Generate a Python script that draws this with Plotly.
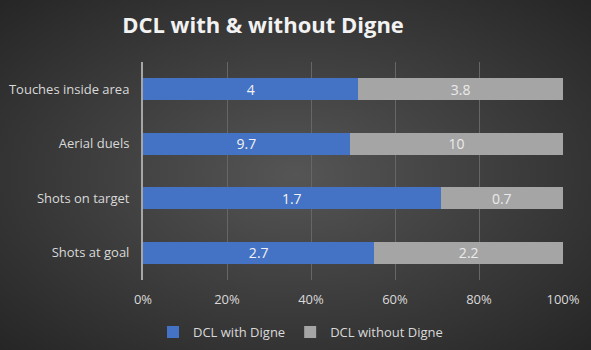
import base64
import plotly.graph_objects as go

categories = ["Touches inside area", "Aerial duels", "Shots on target", "Shots at goal"]
with_digne = [4, 9.7, 1.7, 2.7]
without_digne = [3.8, 10, 0.7, 2.2]
x_ticks = [0, 20, 40, 60, 80, 100]
x_tick_labels = ["0%", "20%", "40%", "60%", "80%", "100%"]

W, H = 591, 350
svg = f'''<svg xmlns="http://www.w3.org/2000/svg" width="{W}" height="{H}" viewBox="0 0 {W} {H}" preserveAspectRatio="none">
<defs><radialGradient id="g" cx="50%" cy="50%" r="70%">
<stop offset="0%" stop-color="#555555"/><stop offset="100%" stop-color="#262626"/></radialGradient></defs>
<rect width="{W}" height="{H}" fill="url(#g)"/></svg>'''
bg_src = "data:image/svg+xml;base64," + base64.b64encode(svg.encode()).decode()

fig = go.Figure()
fig.add_trace(go.Bar(
    y=categories, x=with_digne, name="DCL with Digne", orientation="h",
    marker=dict(color="#4472C4", line=dict(width=0)),
    text=[str(v) for v in with_digne], textposition="inside", insidetextanchor="middle",
    textangle=0, constraintext="none",
    textfont=dict(color="#F2F2F2", size=14, family="Open Sans"),
))
fig.add_trace(go.Bar(
    y=categories, x=without_digne, name="DCL without Digne", orientation="h",
    marker=dict(color="#A5A5A5", line=dict(width=0)),
    text=[str(v) for v in without_digne], textposition="inside", insidetextanchor="middle",
    textangle=0, constraintext="none",
    textfont=dict(color="#EBEBEB", size=14, family="Open Sans"),
))

fig.update_layout(
    width=W, height=H,
    barmode="stack", barnorm="percent", bargap=0.6,
    paper_bgcolor="#3a3a3a", plot_bgcolor="rgba(0,0,0,0)",
    margin=dict(l=143, r=28, t=62, b=70, autoexpand=False),
    title=dict(text="<b>DCL with & without Digne</b>", x=263 / W, xanchor="center",
               y=1 - 25 / H, yanchor="middle",
               font=dict(family="Open Sans", size=22, color="#F2F2F2")),
    font=dict(family="Open Sans", color="#D9D9D9", size=13),
    xaxis=dict(range=[0, 100], tickvals=x_ticks, ticktext=x_tick_labels,
               showgrid=True, gridcolor="#666666", gridwidth=1, zeroline=False,
               showline=False, ticks="", ticklabelstandoff=10, automargin=False,
               tickfont=dict(size=13, color="#D9D9D9")),
    yaxis=dict(autorange="reversed", showgrid=False, showline=True,
               linecolor="#A6A6A6", linewidth=2, ticks="", ticklabelstandoff=9,
               automargin=False,
               tickfont=dict(size=13, color="#D9D9D9")),
    legend=dict(orientation="h", x=0.375, xanchor="center", y=-0.17, yanchor="top",
                font=dict(size=13, color="#D9D9D9"), bgcolor="rgba(0,0,0,0)",
                traceorder="normal", itemwidth=30),
    images=[dict(source=bg_src, xref="paper", yref="paper", x=-143/(W-171), y=1+62/(H-132),
                 sizex=W/(W-171), sizey=H/(H-132), xanchor="left", yanchor="top",
                 sizing="stretch", layer="below")],
)
fig.write_html("out.html")
